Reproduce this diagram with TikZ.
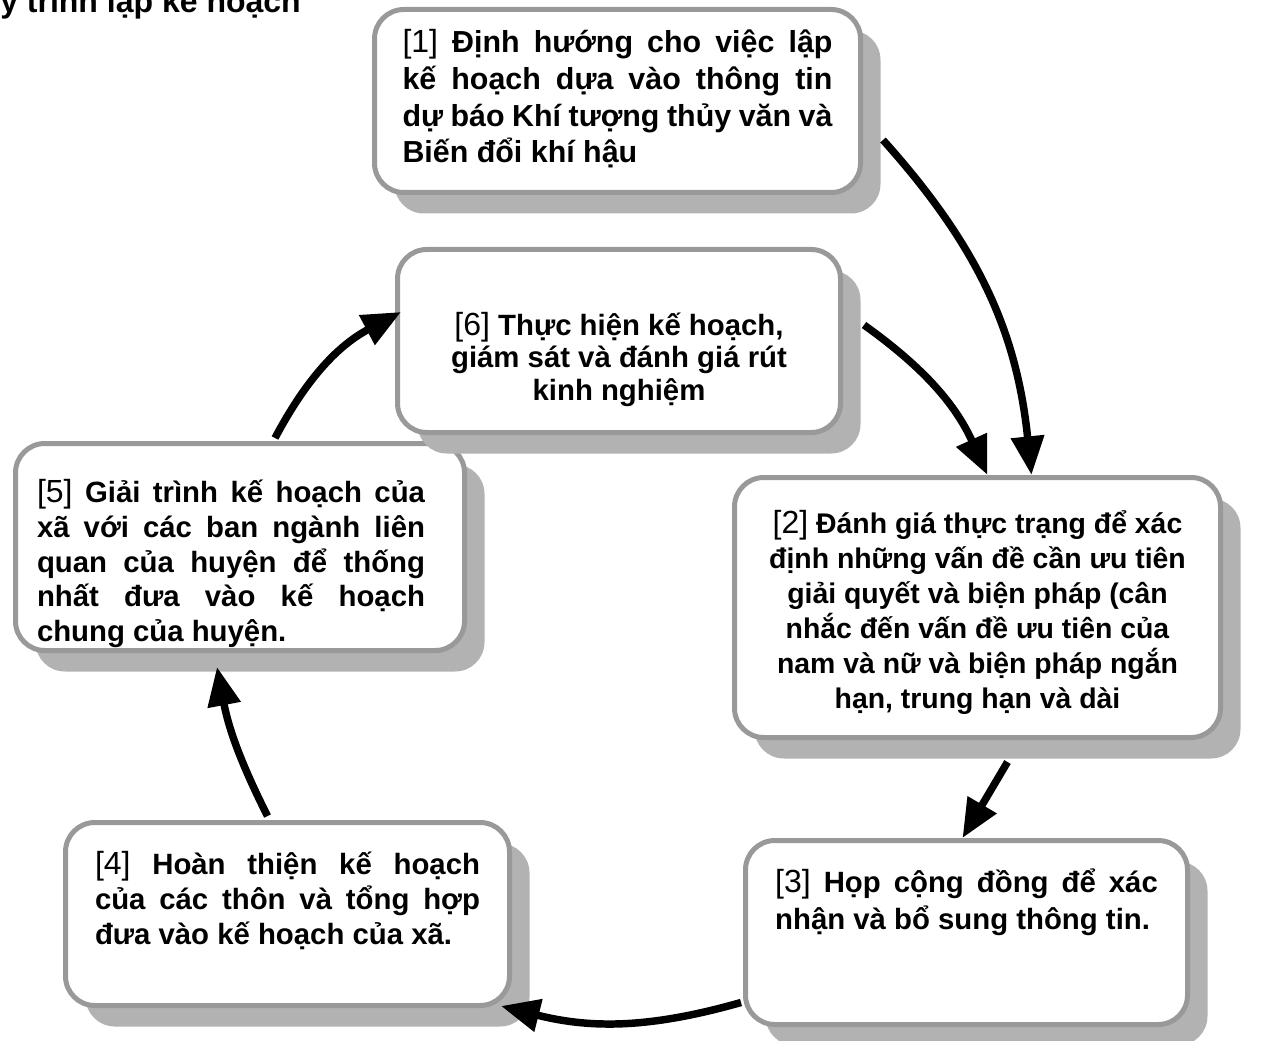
\documentclass[tikz,border=0pt]{standalone}
\usepackage{fontspec}
\setmainfont{Liberation Sans}
\usepackage{xcolor}
\usepackage{tikz}
\usetikzlibrary{positioning,arrows.meta,shadows,calc}

\definecolor{boxgray}{HTML}{999999}
\definecolor{shadowgray}{HTML}{B2B2B2}

% step number in regular weight
\newcommand{\stepno}[1]{{\mdseries\fontsize{24pt}{26pt}\selectfont[#1]}}
% text block: [font size] width, height, top gap, line skip, text
\newcommand{\steptext}[6][22pt]{%
  \parbox[c][#3][t]{#2}{\fontsize{#1}{#5}\bfseries\selectfont
    \tolerance=9999 \hyphenpenalty=10000
    \vspace*{#4}\hbox{}#6}}

\begin{document}
\begin{tikzpicture}[
  x=0.75pt, y=-0.75pt,
  stepbox/.style={draw=boxgray, line width=3.75pt, fill=white,
                  rounded corners=22pt, inner sep=0pt,
                  drop shadow={shadow xshift=15pt, shadow yshift=-15.75pt,
                               fill=shadowgray, opacity=1}},
  cyclearrow/.style={-{Triangle[length=29pt,width=24pt]}, line width=5.6pt, black},
  hd/.style={font=\bfseries\fontsize{24pt}{26pt}\selectfont, anchor=base west, inner sep=0pt},
]
\useasboundingbox (0,0) rectangle (1264,1041);

% title (cut at the top edge)
\node[hd] (title) at (0,13) {y trình lập kế hoạch};

% the six steps
\node[stepbox, minimum width=364.5pt, minimum height=137.25pt] (s1) at (617.5,101)
  {\steptext[22.8pt]{322.5pt}{137.25pt}{5pt}{27.5pt}{\stepno{1} Định hướng cho việc lập\linebreak
   kế hoạch dựa vào thông tin\linebreak dự báo Khí tượng thủy văn và\linebreak
   Biến đổi khí hậu}};

\node[stepbox, minimum width=336.75pt, minimum height=155.25pt] (s5) at (240,547)
  {\steptext{291pt}{155.25pt}{18.6pt}{26pt}{\stepno{5} Giải trình kế hoạch của\linebreak
   xã với các ban ngành liên\linebreak quan của huyện để thống\linebreak
   nhất đưa vào kế hoạch\linebreak chung của huyện.}\hspace*{13.5pt}};

\node[stepbox, minimum width=332.25pt, minimum height=137.25pt] (s6) at (619,341)
  {\steptext{300pt}{137.25pt}{40pt}{24.4pt}{\centering\stepno{6} Thực hiện kế hoạch,\\
   giám sát và đánh giá rút\\ kinh nghiệm}};

\node[stepbox, minimum width=364.5pt, minimum height=195pt] (s2) at (977.5,607.5)
  {\steptext[21.3pt]{340pt}{195pt}{16.1pt}{26.25pt}{\centering\stepno{2} Đánh giá thực trạng để xác\\
   định những vấn đề cần ưu tiên\\ giải quyết và biện pháp (cân\\
   nhắc đến vấn đề ưu tiên của\\ nam và nữ và biện pháp ngắn\\
   hạn, trung hạn và dài}};

\node[stepbox, minimum width=331.5pt, minimum height=138pt] (s3) at (966.5,932.5)
  {\steptext{287pt}{138pt}{11.6pt}{27.75pt}{\stepno{3} Họp cộng đồng để xác\linebreak
   nhận và bổ sung thông tin.}};

\node[stepbox, minimum width=333pt, minimum height=137.25pt] (s4) at (287.5,914)
  {\steptext{288.75pt}{137.25pt}{13.1pt}{26.25pt}{\stepno{4} Hoàn thiện kế hoạch\linebreak
   của các thôn và tổng hợp\linebreak đưa vào kế hoạch của xã.}};

% cycle arrows
\draw[cyclearrow] ($(s1.east)+(20,39)$) to[bend left=18] ($(s2.north)+(54,0)$);
\draw[cyclearrow] ($(s6.east)+(21,-16)$) to[bend left=15] ($(s2.north)+(10,0)$);
\draw[cyclearrow] ($(s2.south)+(30,22)$) -- ($(s3.north)+(-4,0)$);
\draw[cyclearrow] ($(s3.west)+(-2,70)$) to[bend left=15] ($(s4.south east)+(-11,-2)$);
\draw[cyclearrow] ($(s4.north)+(-20,-4)$) to[bend left=8] ($(s5.south)+(-23,14)$);
\draw[cyclearrow] ($(s5.north)+(35,-3)$) to[bend left=17] ($(s6.west)+(6,-29)$);
\end{tikzpicture}
\end{document}
